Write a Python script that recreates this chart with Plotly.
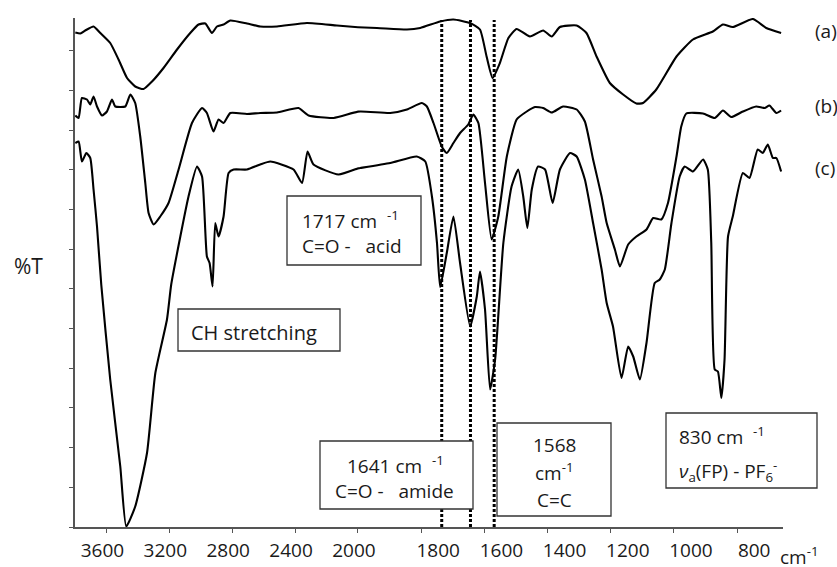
import plotly.graph_objects as go

# ---------------- data ----------------
wn_a = [3798, 3766, 3735, 3682, 3639, 3576, 3523, 3469, 3417, 3364, 3310, 3237, 3151, 3067, 3014,
        2971, 2929, 2897, 2855, 2812, 2706, 2622, 2515, 2325, 2134, 1940, 1845, 1803, 1740, 1698,
        1645, 1614, 1593, 1574, 1551, 1524, 1498, 1456, 1414, 1387, 1361, 1308, 1277, 1245, 1203,
        1161, 1119, 1098, 1056, 992, 940, 877, 845, 814, 750, 708, 661]
T_a = [98.9, 98.7, 99.3, 100.1, 98.8, 96.8, 93.5, 89.8, 88.1, 87.6, 89.1, 91.8, 95.5, 98.8, 100.5,
       100.7, 98.8, 100.1, 100.5, 101.3, 100.7, 100.1, 100.1, 100.8, 100.3, 99.8, 99.5, 99.8, 101.1, 101.5,
       100.8, 99.5, 94.1, 89.8, 92.8, 97.8, 99.6, 98.1, 99.3, 98.1, 100.0, 100.3, 98.8, 94.1, 88.8,
       86.5, 84.7, 84.8, 87.5, 94.1, 97.5, 99.1, 100.5, 100.0, 101.6, 99.8, 98.8]

wn_b = [3798, 3777, 3756, 3724, 3703, 3682, 3660, 3628, 3597, 3565, 3544, 3480, 3448, 3417, 3385,
        3353, 3332, 3300, 3258, 3205, 3141, 3056, 2992, 2961, 2919, 2887, 2855, 2812, 2706, 2622,
        2515, 2378, 2314, 2155, 1993, 1898, 1845, 1798, 1782, 1761, 1735, 1719, 1698, 1677, 1651,
        1635, 1619, 1598, 1577, 1556, 1529, 1498, 1466, 1440, 1414, 1387, 1351, 1308, 1282, 1256,
        1229, 1213, 1187, 1171, 1145, 1119, 1087, 1066, 1040, 1019, 992, 977, 961, 908, 871,
        845, 819, 782, 740, 713, 698, 676, 661]
T_b = [82.3, 81.8, 85.8, 85.5, 84.5, 86.1, 84.1, 82.3, 83.1, 85.5, 84.1, 84.1, 86.5, 84.8, 78.1,
       68.8, 62.8, 60.5, 62.1, 64.8, 71.5, 80.8, 83.8, 82.8, 79.1, 81.5, 80.8, 82.8, 82.6, 82.8,
       82.9, 83.8, 82.3, 81.8, 83.1, 82.8, 83.5, 84.8, 84.1, 80.8, 76.1, 74.8, 76.8, 78.8, 80.5,
       82.5, 80.8, 68.8, 57.5, 62.1, 74.1, 81.5, 83.1, 84.0, 83.8, 82.9, 84.1, 83.5, 81.1, 73.5,
       66.1, 60.8, 55.5, 52.1, 56.5, 58.1, 59.5, 61.8, 61.5, 64.8, 74.1, 80.1, 82.7, 82.7, 81.8,
       83.3, 82.0, 83.1, 84.1, 83.8, 84.3, 82.8, 83.3]

wn_c = [3798, 3777, 3756, 3728, 3703, 3682, 3660, 3633, 3576, 3512, 3474, 3417, 3342, 3289, 3215,
        3188, 3130, 3078, 3024, 2992, 2961, 2944, 2925, 2908, 2887, 2855, 2823, 2791, 2706, 2622,
        2558, 2410, 2356, 2321, 2283, 2124, 1993, 1898, 1814, 1787, 1766, 1750, 1740, 1719, 1698,
        1677, 1645, 1624, 1614, 1598, 1582, 1566, 1540, 1514, 1493, 1477, 1464, 1450, 1430, 1408,
        1384, 1361, 1329, 1308, 1282, 1256, 1229, 1213, 1193, 1166, 1145, 1129, 1108, 1087, 1061,
        1045, 1029, 1008, 982, 966, 940, 908, 893, 882, 871, 861, 850, 840, 829, 814,
        782, 761, 735, 719, 703, 687, 676, 661]
T_c = [76.8, 77.1, 73.1, 74.8, 73.8, 67.5, 60.1, 48.5, 29.5, 12.1, 0.1, 4.1, 14.8, 30.8, 41.5,
       48.5, 58.1, 66.1, 72.1, 70.1, 54.1, 52.8, 48.1, 60.8, 58.1, 62.1, 70.8, 71.5, 71.5, 72.5,
       73.1, 71.5, 68.8, 75.1, 72.5, 70.5, 71.8, 72.8, 74.1, 73.1, 66.1, 56.8, 48.0, 54.8, 62.1,
       52.8, 40.1, 46.1, 51.1, 43.5, 27.5, 33.5, 56.8, 68.1, 71.5, 66.1, 59.8, 67.5, 72.1, 71.5,
       64.8, 71.5, 74.8, 74.1, 69.5, 60.8, 51.5, 44.8, 40.1, 29.8, 36.1, 34.1, 29.5, 36.8, 48.8,
       49.5, 51.5, 60.8, 70.1, 72.1, 71.1, 73.5, 71.5, 56.8, 31.5, 31.1, 25.8, 33.5, 58.1, 62.1,
       70.8, 69.8, 75.5, 74.8, 76.5, 73.8, 73.8, 71.1]

series_labels = ["(a)", "(b)", "(c)"]
ticks_high = [3600, 3200, 2800, 2400, 2000]          # compressed region (> 2000 cm-1)
ticks_low = [1800, 1600, 1400, 1200, 1000, 800]     # expanded region (< 2000 cm-1)
marker_lines = [1735, 1644, 1569]                   # dotted guide lines as drawn
y_ticks = [round(i * 7.94, 2) for i in range(13)]

# ---------------- layout helpers ----------------
W, H = 837, 567
L, R, T, B = 75, 54, 18, 40
PW, PH = W - L - R, H - T - B
SPLIT = 0.3997
FONT = "Open Sans"
TXT = "#1a1a1a"
AX = "#555555"


def fx(p):
    return (p - L) / PW


def fy(p):
    return (H - B - p) / PH


fig = go.Figure()
for wn, tr in [(wn_a, T_a), (wn_b, T_b), (wn_c, T_c)]:
    for xa in ("x", "x2"):
        fig.add_trace(go.Scatter(
            x=wn, y=tr, xaxis=xa, yaxis="y", mode="lines",
            line=dict(color="black", width=2.1, shape="spline", smoothing=0.5),
            showlegend=False, hoverinfo="skip"))

axis_common = dict(
    showline=True, linecolor=AX, linewidth=1.5, ticks="outside", ticklen=4,
    tickcolor=AX, tickwidth=1.2, showgrid=False, zeroline=False, automargin=False,
    tickfont=dict(family=FONT, size=19, color=TXT), ticklabelstandoff=1,
)

fig.update_layout(
    width=W, height=H, margin=dict(l=L, r=R, t=T, b=B, autoexpand=False),
    paper_bgcolor="white", plot_bgcolor="white", showlegend=False,
    xaxis=dict(domain=[0, SPLIT], range=[3800, 2000], tickvals=ticks_high,
               ticktext=[str(v) for v in ticks_high], ticklabelshift=4, **axis_common),
    xaxis2=dict(domain=[SPLIT, 1], range=[2000, 655], anchor="y", tickvals=ticks_low,
                ticktext=[str(v) for v in ticks_low], ticklabelshift=-17, **axis_common),
    yaxis=dict(range=[0, 101.8], tickvals=y_ticks, showticklabels=False, automargin=False,
               showline=True, linecolor=AX, linewidth=1.5, ticks="outside", ticklen=4,
               tickcolor=AX, tickwidth=1.2, showgrid=False, zeroline=False),
)

shapes = []
for v in marker_lines:
    shapes.append(dict(type="line", xref="x2", yref="y", x0=v, x1=v, y0=0, y1=101.4,
                       line=dict(color="black", width=3, dash="3px,2px")))

boxes = [(287, 196, 421, 265), (178, 309, 340, 351), (320, 441, 473, 509),
         (497, 423, 611, 516), (666, 413, 817, 488)]
for x0, y0, x1, y1 in boxes:
    shapes.append(dict(type="rect", xref="paper", yref="paper", layer="above",
                       x0=fx(x0), x1=fx(x1), y0=fy(y1), y1=fy(y0),
                       line=dict(color="#333333", width=1.3), fillcolor="white"))
fig.update_layout(shapes=shapes)

NB = "\u00a0"
anns = [
    ("1717 cm" + NB + NB + "<sup>-1</sup>", 300, 220, "left", 19),
    ("C=O -" + NB + NB + NB + "acid", 300, 246, "left", 19),
    ("CH stretching", 189, 332, "left", 20),
    ("1641 cm" + NB + NB + "<sup>-1</sup>", 395, 465, "center", 19),
    ("C=O -" + NB + NB + NB + "amide", 394, 491, "center", 19),
    ("1568", 554, 445, "center", 19),
    ("cm<sup>-1</sup>", 554, 472, "center", 19),
    ("C=C", 554, 500, "center", 19),
    ("830 cm" + NB + NB + "<sup>-1</sup>", 677, 436, "left", 19),
    ("<i>ν</i><sub>a</sub>(FP) - PF<sub>6</sub><sup>-</sup>", 677, 471, "left", 19),
    ("%T", 12, 266, "left", 21),
    ("cm<sup>-1</sup>", 778, 556, "left", 19),
]
for (lab, yy) in zip(series_labels, [31, 106, 168]):
    anns.append((lab, 813, yy, "left", 19))

fig.update_layout(annotations=[
    dict(text=t, x=fx(x), y=fy(y), xref="paper", yref="paper", xanchor=a, yanchor="middle",
         showarrow=False, font=dict(family=FONT, size=s, color=TXT))
    for t, x, y, a, s in anns
])

fig.write_html("out.html", config={"displayModeBar": False},
               post_script="document.body.style.margin='0px';")
